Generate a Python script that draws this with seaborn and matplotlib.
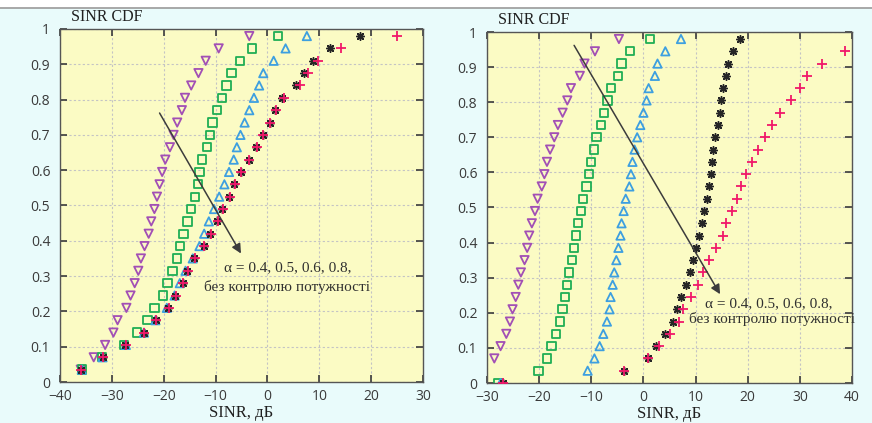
import numpy as np
import pandas as pd
import matplotlib
matplotlib.use("Agg")
import matplotlib.pyplot as plt
from matplotlib.patches import Rectangle
from matplotlib.lines import Line2D
import seaborn as sns

# CDF levels shared by every series (bottom -> top)
levels = [0.0, 0.035, 0.07, 0.105, 0.14, 0.175, 0.21, 0.245, 0.28, 0.315,
          0.35, 0.385, 0.42, 0.455, 0.49, 0.525, 0.56, 0.595, 0.63, 0.665,
          0.70, 0.735, 0.77, 0.805, 0.84, 0.875, 0.91, 0.945, 0.98]

# left panel (None = off the axes)
left_a04 = [None, -36.0, -33.5, -31.3, -29.7, -28.9, -27.2, -26.4, -25.6, -24.9, -24.4,
            -23.7, -22.9, -22.4, -21.8, -21.3, -20.8, -20.3, -19.7, -18.8, -18.1,
            -17.4, -16.5, -15.9, -14.7, -13.3, -11.9, -9.4, -3.5]
left_a05 = [None, -35.7, -31.9, -27.6, -25.1, -23.1, -21.8, -20.2, -19.3, -18.3, -17.5,
            -16.9, -16.2, -15.4, -14.7, -14.0, -13.4, -13.1, -12.6, -11.7, -11.1,
            -10.6, -9.7, -8.7, -7.9, -6.9, -5.3, -3.0, 2.0]
left_a06 = [None, -35.8, -31.8, -27.3, -23.8, -21.6, -19.4, -17.9, -16.9, -15.8, -14.4,
            -13.1, -12.2, -11.3, -10.3, -9.3, -8.3, -7.4, -6.5, -5.9, -5.2,
            -4.4, -3.5, -2.6, -1.6, -0.8, 1.2, 3.5, 7.6]
left_a08 = [None, -36.0, -31.8, -27.4, -23.8, -21.5, -19.1, -17.8, -16.3, -15.5, -14.2,
            -12.3, -11.0, -9.7, -8.7, -7.4, -6.4, -5.1, -3.5, -2.2, -0.9,
            0.4, 1.5, 2.9, 5.5, 7.1, 8.8, 12.1, 17.9]
left_npc = [None, -36.0, -31.7, -27.3, -23.8, -21.5, -19.0, -17.6, -16.2, -15.4, -14.0,
            -12.2, -10.9, -9.6, -8.6, -7.2, -6.3, -5.1, -3.5, -2.1, -0.8,
            0.5, 1.7, 3.2, 6.3, 7.9, 9.7, 14.2, 25.0]

# right panel
right_a04 = [None, None, -28.6, -27.4, -26.3, -25.6, -25.1, -24.5, -24.0, -23.5, -22.8,
             -22.3, -21.9, -21.4, -20.8, -20.3, -19.5, -19.0, -18.5, -17.9, -17.1,
             -16.4, -15.5, -14.6, -13.9, -12.2, -11.3, -9.3, -4.7]
right_a05 = [-27.8, -20.1, -18.5, -17.6, -16.8, -16.0, -15.5, -15.0, -14.7, -14.3, -13.7,
             -13.3, -12.9, -12.5, -12.0, -11.6, -10.9, -10.4, -10.0, -9.5, -9.0,
             -8.2, -7.5, -6.9, -6.2, -4.9, -4.2, -2.6, 1.3]
right_a06 = [-27.4, -10.7, -9.4, -8.4, -7.7, -7.0, -6.5, -6.3, -5.9, -5.6, -5.2,
             -4.8, -4.4, -4.2, -3.8, -3.4, -2.7, -2.4, -2.1, -1.7, -1.2,
             -0.6, 0.0, 0.6, 1.0, 2.2, 2.7, 4.2, 7.2]
right_a08 = [-27.0, -3.8, 0.8, 2.4, 4.2, 5.6, 6.5, 7.2, 8.2, 8.9, 9.5,
             10.1, 10.7, 11.2, 11.7, 12.1, 12.5, 12.9, 13.2, 13.4, 13.8,
             14.3, 14.6, 14.9, 15.3, 15.8, 16.2, 17.1, 18.6]
right_npc = [-27.0, -3.8, 0.9, 2.9, 5.0, 6.9, 7.6, 9.1, 10.4, 11.4, 12.5,
             13.9, 15.2, 15.9, 16.9, 17.9, 18.7, 19.6, 20.9, 21.9, 23.3,
             24.7, 26.1, 28.3, 30.1, 31.3, 34.2, 38.6, None]

x_ticks_left = [-40, -30, -20, -10, 0, 10, 20, 30]
x_ticks_right = [-30, -20, -10, 0, 10, 20, 30, 40]
y_ticks = [0, 0.1, 0.2, 0.3, 0.4, 0.5, 0.6, 0.7, 0.8, 0.9, 1]
y_labels = ["0", "0.1", "0.2", "0.3", "0.4", "0.5", "0.6", "0.7", "0.8", "0.9", "1"]

sns.set_style("ticks")
plt.rcParams["font.family"] = ["Open Sans", "DejaVu Sans"]

BG = "#e9fbfb"
PANEL = "#fbfbc4"
series_style = [
    # name, marker, color, filled
    ("a04", "v", "#a24fb5", False),
    ("a05", "s", "#1fae55", False),
    ("a06", "^", "#3d9fe0", False),
    ("a08", (8, 2, 0), "#262626", True),
    ("npc", "+", "#f0186a", True),
]

fig = plt.figure(figsize=(8.72, 4.23), dpi=100, facecolor=BG)
fig.patches.append(Rectangle((0, 1 - 8 / 423), 1, 8 / 423, transform=fig.transFigure,
                             facecolor="white", edgecolor="none", zorder=0))
fig.lines.append(Line2D([0, 1], [1 - 8 / 423, 1 - 8 / 423], transform=fig.transFigure,
                        color="#9a9a9a", lw=1.2))

ax1 = fig.add_axes([60 / 872, 41 / 423, 363 / 872, 353 / 423])
ax2 = fig.add_axes([487 / 872, 40 / 423, 365 / 872, 351 / 423])

panels = [
    (ax1, [left_a04, left_a05, left_a06, left_a08, left_npc], (-40, 30), x_ticks_left,
     (-20.8, 0.762), (-5.1, 0.364), (4.0, 0.325), (3.8, 0.270)),
    (ax2, [right_a04, right_a05, right_a06, right_a08, right_npc], (-30, 40), x_ticks_right,
     (-13.3, 0.962), (14.7, 0.253), (24.1, 0.226), (24.6, 0.183)),
]

for ax, xs_list, xlim, xticks, a_start, a_end, t1, t2 in panels:
    ax.set_facecolor(PANEL)
    for xs, (name, mk, col, filled) in zip(xs_list, series_style):
        df = pd.DataFrame({"sinr": xs, "cdf": levels}).dropna()
        if filled:
            sns.scatterplot(data=df, x="sinr", y="cdf", marker=mk, color=col,
                            s=48 if mk == "+" else 30, linewidth=1.3 if mk == "+" else 1.1,
                            edgecolor=col, ax=ax, zorder=3)
        else:
            sns.scatterplot(data=df, x="sinr", y="cdf", marker=mk, facecolor="none",
                            edgecolor=col, s=36, linewidth=1.3, ax=ax, zorder=3)

    ax.set_xlim(*xlim)
    ax.set_ylim(0, 1)
    ax.set_xticks(xticks)
    ax.set_yticks(y_ticks)
    ax.set_yticklabels(y_labels)
    ax.grid(True, color="#c4c4c4", linestyle=(0, (2, 2)), linewidth=0.8)
    ax.tick_params(direction="in", length=5, width=1.2, top=True, right=True,
                   labelsize=10, labelcolor="#3a3a3a", color="#3a3a3a")
    ax.tick_params(axis="x", pad=5)
    ax.tick_params(axis="y", pad=7)
    for sp in ax.spines.values():
        sp.set_visible(True)
        sp.set_color("#555555")
        sp.set_linewidth(1.0)
    ax.set_xlabel("SINR, дБ", family="Liberation Serif", fontsize=12, color="#202020",
                  labelpad=1)
    ax.set_ylabel("")
    ax.text(0.03, 1.012, "SINR CDF", transform=ax.transAxes, family="Liberation Serif",
            fontsize=11.5, color="#202020", va="bottom", ha="left")

    ax.annotate("", xy=a_end, xytext=a_start,
                arrowprops=dict(arrowstyle="-|>", color="#3c3c3c", lw=1.1,
                                mutation_scale=14, shrinkA=0, shrinkB=0), zorder=4)
    ax.text(t1[0], t1[1], "α = 0.4, 0.5, 0.6, 0.8,", family="Liberation Serif",
            fontsize=11, color="#303030", ha="center", va="center", zorder=5)
    ax.text(t2[0], t2[1], "без контролю потужності", family="Liberation Serif",
            fontsize=11, color="#303030", ha="center", va="center", zorder=5)

fig.savefig("out.png", dpi=100, facecolor=BG)
